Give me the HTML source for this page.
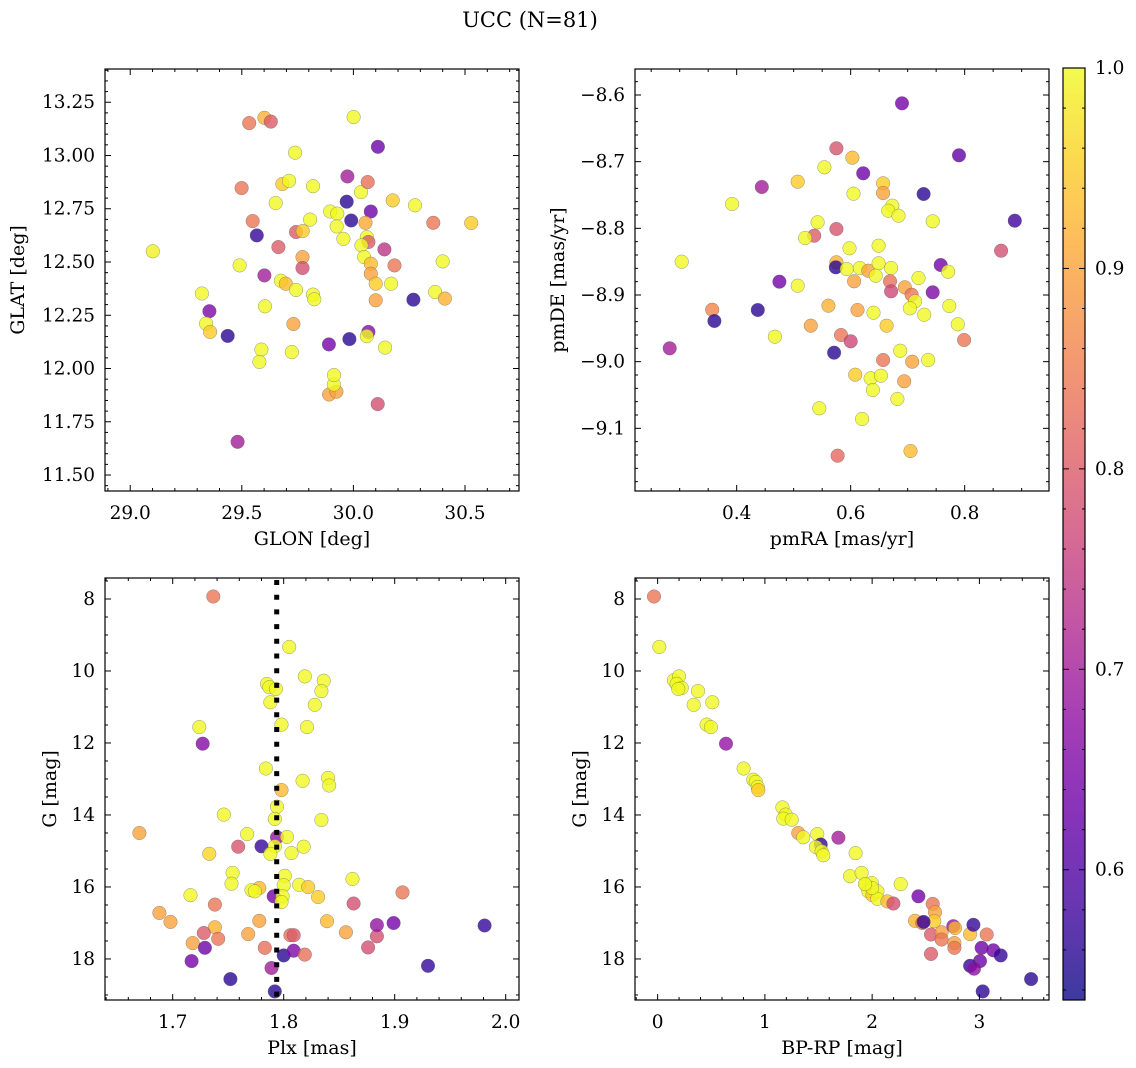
<!DOCTYPE html>
<html><head><meta charset="utf-8"><style>
html,body{margin:0;padding:0;background:#fff;}
svg{display:block;font-family:"DejaVu Serif","Liberation Serif",serif;}
</style></head><body>
<svg id="fig" width="1136" height="1068" viewBox="0 0 1136 1068" xmlns="http://www.w3.org/2000/svg">
<defs>
<linearGradient id="plasmaGrad" x1="0" y1="1" x2="0" y2="0">
<stop offset="0" stop-color="#0d0887"/><stop offset="0.1" stop-color="#41049d"/><stop offset="0.2" stop-color="#6a00a8"/><stop offset="0.3" stop-color="#8f0da4"/><stop offset="0.4" stop-color="#b12a90"/><stop offset="0.5" stop-color="#cc4778"/><stop offset="0.6" stop-color="#e16462"/><stop offset="0.7" stop-color="#f2844b"/><stop offset="0.8" stop-color="#fca636"/><stop offset="0.9" stop-color="#fcce25"/><stop offset="1" stop-color="#f0f921"/>
</linearGradient>
</defs>
<text x="530" y="27" font-size="21" text-anchor="middle">UCC (N=81)</text>
</svg>
<script>
// ---- data ----
const glon = [29.101,29.321,29.355,29.340,29.358,29.437,29.481,29.490,29.533,29.499,29.549,29.567,29.601,29.630,29.601,29.604,29.588,29.579,29.739,29.652,29.682,29.712,29.664,29.675,29.697,29.743,29.731,29.724,29.743,29.773,29.806,29.772,29.772,29.819,29.819,29.825,29.890,29.896,29.928,29.925,29.955,29.973,29.970,29.990,30.001,29.982,29.891,29.924,29.912,29.913,30.034,30.064,30.078,30.054,30.060,30.067,30.036,30.048,30.078,30.078,30.100,30.100,30.067,30.060,30.109,30.110,30.139,30.184,30.169,30.142,30.176,30.276,30.269,30.358,30.400,30.366,30.410,30.528];
const glat = [12.550,12.352,12.269,12.211,12.172,12.153,11.656,12.484,13.152,12.847,12.692,12.625,13.177,13.159,12.437,12.292,12.089,12.031,13.013,12.777,12.866,12.881,12.570,12.412,12.398,12.369,12.209,12.077,12.641,12.645,12.699,12.523,12.472,12.856,12.347,12.325,12.113,12.737,12.727,12.667,12.609,12.902,12.783,12.695,13.180,12.138,11.878,11.891,11.925,11.969,12.828,12.875,12.737,12.684,12.617,12.594,12.578,12.523,12.492,12.445,12.398,12.320,12.172,12.152,11.833,13.041,12.559,12.484,12.398,12.098,12.789,12.766,12.323,12.684,12.503,12.359,12.328,12.683];
const prob1 = [0.99,1,0.65,1,0.95,0.56,0.70,1,0.84,0.84,0.84,0.57,0.92,0.80,0.70,1,1,1,1,1,0.95,1,0.80,1,0.93,1,0.90,1,0.80,0.95,1,0.90,0.78,1,1,1,0.64,1,1,1,1,0.70,0.56,0.56,1,0.56,0.90,0.90,1,1,1,0.83,0.63,0.91,1,0.80,1,1,0.93,0.90,0.95,0.90,0.66,1,0.78,0.63,0.74,0.84,1,1,0.95,1,0.56,0.84,1,1,0.92,0.95];

const pmra = [0.690,0.575,0.603,0.554,0.622,0.790,0.444,0.507,0.392,0.605,0.657,0.657,0.728,0.673,0.666,0.684,0.744,0.888,0.542,0.575,0.536,0.520,0.598,0.649,0.864,0.3035,0.575,0.574,0.593,0.616,0.631,0.649,0.644,0.671,0.606,0.669,0.671,0.695,0.707,0.719,0.758,0.771,0.744,0.713,0.704,0.729,0.773,0.788,0.799,0.475,0.507,0.357,0.361,0.437,0.561,0.612,0.640,0.530,0.663,0.467,0.2825,0.583,0.600,0.571,0.687,0.657,0.708,0.736,0.608,0.635,0.653,0.639,0.694,0.682,0.545,0.620,0.577,0.705];
const pmde = [-8.6125,-8.680,-8.694,-8.7085,-8.7175,-8.6905,-8.738,-8.730,-8.7635,-8.748,-8.7325,-8.747,-8.7485,-8.766,-8.7735,-8.781,-8.7895,-8.7885,-8.791,-8.801,-8.811,-8.8145,-8.830,-8.826,-8.8335,-8.850,-8.851,-8.8585,-8.861,-8.8595,-8.8635,-8.8525,-8.871,-8.8595,-8.8795,-8.8795,-8.8945,-8.8885,-8.8995,-8.8745,-8.855,-8.865,-8.896,-8.9095,-8.920,-8.9295,-8.9165,-8.944,-8.9675,-8.880,-8.886,-8.922,-8.939,-8.9225,-8.916,-8.9225,-8.9265,-8.946,-8.946,-8.9625,-8.980,-8.960,-8.9695,-8.9865,-8.9835,-8.9975,-9.000,-8.9975,-9.0195,-9.025,-9.021,-9.0425,-9.0295,-9.056,-9.070,-9.086,-9.141,-9.134];
const prob2 = [0.64,0.79,0.93,1,0.63,0.62,0.70,0.95,1,1,0.95,0.90,0.56,1,1,1,1,0.58,1,0.79,0.80,1,1,1,0.78,1,0.92,0.56,1,1,0.90,1,1,1,0.90,0.83,0.77,0.90,0.84,1,0.64,1,0.65,1,1,1,1,1,0.84,0.64,1,0.86,0.56,0.56,0.92,0.90,1,0.90,0.95,1,0.70,0.84,0.77,0.56,1,0.84,0.90,1,0.95,1,1,1,0.90,1,1,1,0.82,0.93];

const plx = [1.7366,1.805,1.819,1.836,1.834,1.828,1.785,1.787,1.793,1.788,1.798,1.821,1.724,1.727,1.784,1.817,1.840,1.841,1.798,1.794,1.792,1.834,1.746,1.670,1.767,1.794,1.803,1.780,1.759,1.792,1.818,1.733,1.788,1.807,1.754,1.753,1.801,1.800,1.814,1.822,1.778,1.771,1.774,1.791,1.799,1.798,1.831,1.862,1.716,1.738,1.863,1.907,1.688,1.698,1.778,1.839,1.738,1.728,1.741,1.768,1.806,1.809,1.856,1.718,1.729,1.783,1.800,1.809,1.819,1.876,1.884,1.884,1.899,1.981,1.717,1.789,1.930,1.752,1.792];
const gmag3 = [7.93,9.33,10.15,10.27,10.56,10.94,10.36,10.45,10.50,10.87,11.49,11.56,11.56,12.02,12.71,13.05,12.97,13.18,13.31,13.77,14.11,14.14,13.99,14.50,14.53,14.62,14.61,14.87,14.88,14.87,14.88,15.08,15.08,15.06,15.61,15.91,15.69,15.95,15.94,16.00,16.03,16.09,16.12,16.26,16.26,16.42,16.28,15.78,16.23,16.49,16.46,16.15,16.72,16.97,16.94,16.95,17.12,17.28,17.44,17.31,17.34,17.34,17.26,17.56,17.69,17.69,17.90,17.77,17.88,17.68,17.37,17.06,17.00,17.07,18.06,18.25,18.19,18.56,18.90];
const prob3 = [0.84,1,1,1,1,1,1,1,1,1,1,1,1,0.66,1,1,1,1,0.93,1,1,1,1,0.90,1,0.68,1,0.57,0.79,1,1,0.96,1,1,1,1,1,1,1,0.95,0.93,1,1,0.64,1,1,0.95,1,1,0.84,0.78,0.84,0.90,0.90,0.90,0.93,0.92,0.80,0.84,0.90,0.83,0.80,0.90,0.90,0.63,0.83,0.56,0.65,0.83,0.78,0.78,0.68,0.64,0.57,0.64,0.70,0.57,0.56,0.56];
const plxRef = [1.7937];

const bprp = [-0.034,0.016,0.152,0.199,0.177,0.224,0.193,0.376,0.336,0.510,0.457,0.497,0.637,0.802,0.892,0.914,0.933,0.939,1.163,1.194,1.172,1.250,1.312,1.358,1.489,1.520,1.477,1.529,1.545,1.685,1.846,1.794,1.902,1.943,1.996,1.965,2.002,2.049,2.049,2.142,2.198,2.266,2.431,2.565,2.586,2.580,2.400,2.468,2.480,2.549,2.648,2.648,2.549,2.757,2.773,2.767,2.767,2.913,2.944,3.068,3.021,3.130,3.199,3.006,2.913,2.950,3.482,3.031,2.000,1.933];
const gmag4 = [7.93,9.33,10.26,10.15,10.36,10.47,10.50,10.56,10.94,10.87,11.49,11.56,12.02,12.71,13.02,13.08,13.22,13.31,13.79,13.99,14.10,14.13,14.50,14.62,14.53,14.82,14.89,15.01,15.12,14.63,15.06,15.70,15.61,15.94,15.89,16.12,16.23,16.12,16.33,16.40,16.46,15.92,16.26,16.47,16.70,16.95,16.94,17.00,16.97,17.32,17.26,17.46,17.86,17.09,17.14,17.56,17.69,17.31,17.05,17.32,17.69,17.76,17.90,18.06,18.19,18.27,18.56,18.90,16.03,15.92];
const prob4 = [0.84,1,1,1,1,1,1,1,1,1,1,1,0.68,1,1,1,1,0.95,1,1,1,1,0.90,1,1,0.57,1,1,1,0.70,1,1,1,1,1,1,0.95,1,1,0.93,0.78,1,0.64,0.84,0.90,0.95,0.92,0.84,0.57,0.80,0.90,0.84,0.80,0.68,0.92,0.90,0.84,0.93,0.57,0.84,0.63,0.64,0.57,0.63,0.57,0.67,0.56,0.56,1,1];

const cbTicks = [0.6,0.7,0.8,0.9,1.0];
const CMIN = 0.535, CMAX = 1.0;

// ---- helpers ----
const NS = "http://www.w3.org/2000/svg";
const svg = document.getElementById('fig');
const stops = [[13,8,135],[65,4,157],[106,0,168],[143,13,164],[177,42,144],[204,71,120],[225,100,98],[242,132,75],[252,166,54],[252,206,37],[240,249,33]];
function cmap(v){
  let t = Math.max(0, Math.min(1, (v-CMIN)/(CMAX-CMIN)));
  const f = t*10, i = Math.min(9, Math.floor(f)), r = f - i;
  const a = stops[i], b = stops[i+1];
  return 'rgb(' + [0,1,2].map(k => Math.round(a[k]+(b[k]-a[k])*r)).join(',') + ')';
}
function mk(tag, attrs, parent){
  const e = document.createElementNS(NS, tag);
  for (const k in attrs) e.setAttribute(k, attrs[k]);
  (parent||svg).appendChild(e);
  return e;
}
function fmt(v, d){ const s = v.toFixed(d); return s.replace('-', '\u2212'); }
const TICKFS = 18.5, LABFS = 19;

function panel(cfg){
  const {x0,y0,w,h,xmin,xmax,ymin,ymax,invertY} = cfg;
  const sx = v => x0 + (v-xmin)/(xmax-xmin)*w;
  const sy = invertY ? (v => y0 + (v-ymin)/(ymax-ymin)*h) : (v => y0 + h - (v-ymin)/(ymax-ymin)*h);
  const g = mk('g', {});
  
  
  const pts = mk('g', {}, g);
  
  
  for (let i=0;i<cfg.xs.length;i++){
    const c = mk('circle', {cx:sx(cfg.xs[i]).toFixed(1), cy:sy(cfg.ys[i]).toFixed(1), r:6.8, fill:cmap(cfg.cs[i]), 'fill-opacity':0.8, stroke:'#555', 'stroke-opacity':0.6, 'stroke-width':0.5}, pts);
    
    
  }
  if (cfg.vline){
    const l = mk('line', {x1:sx(cfg.vline[0]), x2:sx(cfg.vline[0]), y1:y0+2, y2:y0+h, stroke:'#000', 'stroke-width':5, 'stroke-dasharray':'5 9.7'}, g);
    
    
  }
  const fr = mk('rect', {x:x0, y:y0, width:w, height:h, fill:'none', stroke:'#000', 'stroke-width':1.2}, g);
  
  
  const tg = mk('g', {stroke:'#000', 'stroke-width':1}, g);
  const eps = 1e-9;
  for (let v = Math.ceil(xmin/cfg.xminor)*cfg.xminor; v <= xmax+eps; v += cfg.xminor){
    const X = sx(v); const maj = Math.abs(v/cfg.xmajor - Math.round(v/cfg.xmajor)) < 1e-6;
    const L = maj ? 6 : 3;
    mk('line', {x1:X, x2:X, y1:y0+h, y2:y0+h-L}, tg);
    mk('line', {x1:X, x2:X, y1:y0, y2:y0+L}, tg);
  }
  for (let v = Math.ceil(Math.min(ymin,ymax)/cfg.yminor)*cfg.yminor; v <= Math.max(ymin,ymax)+eps; v += cfg.yminor){
    const Y = sy(v); const maj = Math.abs(v/cfg.ymajor - Math.round(v/cfg.ymajor)) < 1e-6;
    const L = maj ? 6 : 3;
    mk('line', {x1:x0, x2:x0+L, y1:Y, y2:Y}, tg);
    mk('line', {x1:x0+w, x2:x0+w-L, y1:Y, y2:Y}, tg);
  }
  cfg.xticks.forEach(v => {
    const t = mk('text', {x:sx(v), y:y0+h+28, 'font-size':TICKFS, 'text-anchor':'middle'}, g);
    t.textContent = fmt(v, cfg.xdec);
    
    
  });
  cfg.yticks.forEach(v => {
    const t = mk('text', {x:x0-10, y:sy(v)+6, 'font-size':TICKFS, 'text-anchor':'end'}, g);
    t.textContent = fmt(v, cfg.ydec);
    
    
  });
  const xl = mk('text', {x:x0+w/2, y:y0+h+54, 'font-size':LABFS, 'text-anchor':'middle'}, g);
  xl.textContent = cfg.xlabel;
  
  
  const yl = mk('text', {x:0, y:0, 'font-size':LABFS, 'text-anchor':'middle', transform:`translate(${cfg.ylx},${y0+h/2}) rotate(-90)`}, g);
  yl.textContent = cfg.ylabel;
  
  
}

panel({name:'glon-glat-panel', x0:105, y0:69, w:414, h:422, xmin:28.887, xmax:30.742, ymin:11.425, ymax:13.406,
  xs:glon, ys:glat, cs:prob1, xminor:0.1, xmajor:0.5, yminor:0.05, ymajor:0.25,
  xticks:[29.0,29.5,30.0,30.5], xdec:1, yticks:[11.5,11.75,12.0,12.25,12.5,12.75,13.0,13.25], ydec:2,
  xlabel:'GLON [deg]', ylabel:'GLAT [deg]', ylx:24});
panel({name:'pm-panel', x0:635, y0:69, w:414, h:422, xmin:0.2216, xmax:0.948, ymin:-9.194, ymax:-8.561,
  xs:pmra, ys:pmde, cs:prob2, xminor:0.05, xmajor:0.2, yminor:0.02, ymajor:0.1,
  xticks:[0.4,0.6,0.8], xdec:1, yticks:[-9.1,-9.0,-8.9,-8.8,-8.7,-8.6], ydec:1,
  xlabel:'pmRA [mas/yr]', ylabel:'pmDE [mas/yr]', ylx:564});
panel({name:'plx-g-panel', x0:105, y0:578, w:414, h:422, xmin:1.639, xmax:2.012, ymin:7.417, ymax:19.14, invertY:true,
  xs:plx, ys:gmag3, cs:prob3, vline:plxRef, xminor:0.02, xmajor:0.1, yminor:0.5, ymajor:2,
  xticks:[1.7,1.8,1.9,2.0], xdec:1, yticks:[8,10,12,14,16,18], ydec:0,
  xlabel:'Plx [mas]', ylabel:'G [mag]', ylx:56});
panel({name:'cmd-panel', x0:635, y0:578, w:414, h:422, xmin:-0.211, xmax:3.649, ymin:7.417, ymax:19.14, invertY:true,
  xs:bprp, ys:gmag4, cs:prob4, xminor:0.2, xmajor:1, yminor:0.5, ymajor:2,
  xticks:[0,1,2,3], xdec:0, yticks:[8,10,12,14,16,18], ydec:0,
  xlabel:'BP-RP [mag]', ylabel:'G [mag]', ylx:586});

// colorbar
const cb = mk('g', {});


const cbx = 1063, cby = 68, cbw = 22, cbh = 932;
const cbY = v => cby + cbh - (v-CMIN)/(CMAX-CMIN)*cbh;
const cbr = mk('rect', {x:cbx, y:cby, width:cbw, height:cbh, fill:'url(#plasmaGrad)', 'fill-opacity':0.8}, cb);


const cbf = mk('rect', {x:cbx, y:cby, width:cbw, height:cbh, fill:'none', stroke:'#000', 'stroke-width':1.2}, cb);


for (let v = 0.54; v <= CMAX+1e-9; v += 0.02){
  const Y = cbY(v); const maj = Math.abs(v*10 - Math.round(v*10)) < 1e-6;
  mk('line', {x1:cbx+cbw, x2:cbx+cbw-(maj?6:3), y1:Y, y2:Y, stroke:'#000', 'stroke-width':1}, cb);
  mk('line', {x1:cbx, x2:cbx+(maj?6:3), y1:Y, y2:Y, stroke:'#000', 'stroke-width':1}, cb);
}
cbTicks.forEach(v => {
  const t = mk('text', {x:cbx+cbw+10, y:cbY(v)+6, 'font-size':TICKFS}, cb);
  t.textContent = v.toFixed(1);
  
  
});
</script>
</body></html>
